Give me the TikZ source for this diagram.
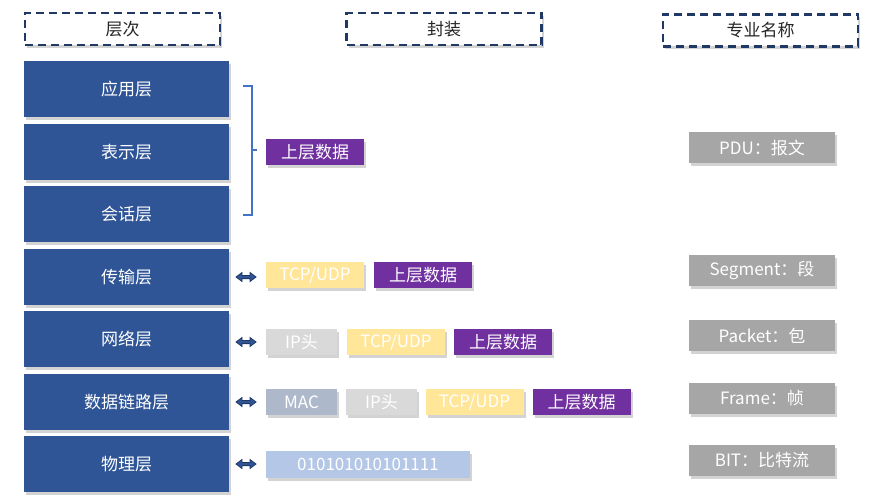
\documentclass[tikz,border=0pt]{standalone}
\usepackage{fontspec}
\setmainfont{Noto Sans CJK SC}
\usetikzlibrary{shadows,arrows.meta}
\definecolor{layerblue}{HTML}{2F5597}
\definecolor{dashblue}{HTML}{203864}
\definecolor{datapurple}{HTML}{7030A0}
\definecolor{tcpyellow}{HTML}{FFE699}
\definecolor{iplight}{HTML}{D9D9D9}
\definecolor{macgray}{HTML}{ADB9CA}
\definecolor{bitblue}{HTML}{B4C7E7}
\definecolor{namegray}{HTML}{A6A6A6}
\definecolor{brackblue}{HTML}{4472C4}
\tikzset{
  x=1pt, y=-1pt,
  shd/.style={drop shadow={opacity=0.35, shadow xshift=2pt, shadow yshift=-3pt}},
  header/.style={draw=dashblue, line width=2.4pt, dash pattern=on 8pt off 5pt, fill=white, shd,
     minimum width=195pt, minimum height=32pt, inner sep=0pt, font=\fontsize{17}{17}\selectfont, text=black!85},
  layer/.style={fill=layerblue, text=white, shd, minimum width=205pt, minimum height=56pt, inner sep=0pt,
     font=\fontsize{17}{17}\selectfont},
  chip/.style={shd, inner sep=0pt, minimum height=26pt, text=white, font=\fontsize{17}{17}\selectfont},
  purp/.style={chip, fill=datapurple, minimum width=98pt},
  tcp/.style={chip, fill=tcpyellow, minimum width=98pt},
  iph/.style={chip, fill=iplight, minimum width=71pt},
  mac/.style={chip, fill=macgray, minimum width=71pt},
  bits/.style={chip, fill=bitblue, minimum width=204pt, minimum height=27pt},
  pname/.style={chip, fill=namegray, minimum width=146pt, minimum height=31pt},
  darr/.pic={\draw[fill=layerblue, draw=dashblue, line width=0.8pt, line join=miter]
     (0,0) -- (6,-4.5) -- (6,-1.6) -- (14,-1.6) -- (14,-4.5) -- (20,0) -- (14,4.5) -- (14,1.6)
     -- (6,1.6) -- (6,4.5) -- cycle;},
}
\begin{document}
\begin{tikzpicture}
\useasboundingbox (0,0) rectangle (870,497);
% headers
\node[header] (h1) at (122.5,29) {层次};
\node[header] (h2) at (444,29) {封装};
\node[header] (h3) at (760.5,30.5) {专业名称};
% layers
\node[layer] (l1) at (126.5,89) {应用层};
\node[layer] (l2) at (126.5,152) {表示层};
\node[layer] (l3) at (126.5,214) {会话层};
\node[layer] (l4) at (126.5,277) {传输层};
\node[layer] (l5) at (126.5,339) {网络层};
\node[layer] (l6) at (126.5,402) {数据链路层};
\node[layer] (l7) at (126.5,464) {物理层};
% bracket
\coordinate (bt) at (243,86);
\coordinate (bb) at (243,215);
\draw[brackblue, line width=1.5pt] (bt) -- ++(9,0) -- ++(0,129) -- (bb);
\draw[brackblue, line width=1.5pt] (252,150) -- (257,150);
\node[purp] (d1) at (315,152) {上层数据};
% transport
\coordinate (a4) at (236,277);
\pic at (a4) {darr};
\node[tcp] (t4) at (315,275) {TCP/UDP};
\node[purp] (d4) at (423,275) {上层数据};
% network
\coordinate (a5) at (236,342);
\pic at (a5) {darr};
\node[iph] (i5) at (301.5,342) {IP头};
\node[tcp] (t5) at (396,342) {TCP/UDP};
\node[purp] (d5) at (503,342) {上层数据};
% data link
\coordinate (a6) at (236,402);
\pic at (a6) {darr};
\node[mac] (m6) at (301.5,402) {MAC};
\node[iph] (i6) at (381.5,402) {IP头};
\node[tcp] (t6) at (474.5,402) {TCP/UDP};
\node[purp] (d6) at (581.5,402) {上层数据};
% physical
\coordinate (a7) at (236,464);
\pic at (a7) {darr};
\node[bits] (b7) at (368,464.5) {010101010101111};
% names
\node[pname] (n1) at (762,148) {PDU：报文};
\node[pname] (n4) at (762,270.5) {Segment：段};
\node[pname] (n5) at (762,335.5) {Packet：包};
\node[pname] (n6) at (762,398.5) {Frame：帧};
\node[pname] (n7) at (762,460) {BIT：比特流};
\end{tikzpicture}
\end{document}
